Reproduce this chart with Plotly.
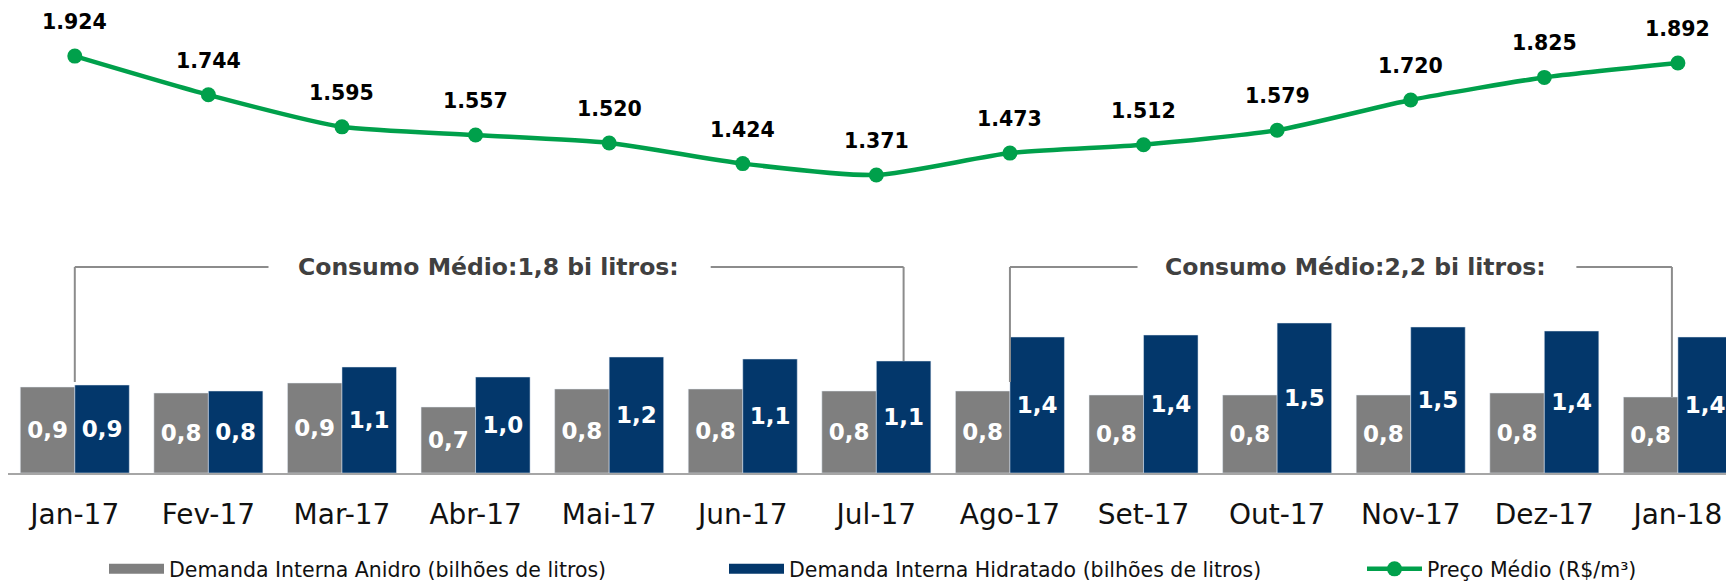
import plotly.graph_objects as go

months = ["Jan-17", "Fev-17", "Mar-17", "Abr-17", "Mai-17", "Jun-17", "Jul-17",
          "Ago-17", "Set-17", "Out-17", "Nov-17", "Dez-17", "Jan-18"]
anidro = [0.86, 0.80, 0.90, 0.66, 0.84, 0.84, 0.82, 0.82, 0.78, 0.78, 0.78, 0.80, 0.76]
hidratado = [0.88, 0.82, 1.06, 0.96, 1.16, 1.14, 1.12, 1.36, 1.38, 1.50, 1.46, 1.42, 1.36]
preco = [1924, 1744, 1595, 1557, 1520, 1424, 1371, 1473, 1512, 1579, 1720, 1825, 1892]

name_anidro = "Demanda Interna Anidro (bilhões de litros)"
name_hidr = "Demanda Interna Hidratado (bilhões de litros)"
name_preco = "Preço Médio (R$/m³)"
consumo1 = "Consumo Médio:1,8 bi litros:"
consumo2 = "Consumo Médio:2,2 bi litros:"

GREY = "#7F7F7F"
BLUE = "#03376B"
GREEN = "#00A04B"
FONT = "DejaVu Sans"

fig = go.Figure()
fig.add_bar(x=months, y=anidro, name=name_anidro, marker_color=GREY, showlegend=False,
            texttemplate="%{y:.1f}", textposition="inside", insidetextanchor="middle",
            textangle=0, constraintext="none",
            textfont=dict(family=FONT, size=23, color="white", weight="bold"))
fig.add_bar(x=months, y=hidratado, name=name_hidr, marker_color=BLUE, showlegend=False,
            texttemplate="%{y:.1f}", textposition="inside", insidetextanchor="middle",
            textangle=0, constraintext="none",
            textfont=dict(family=FONT, size=23, color="white", weight="bold"))
fig.add_scatter(x=months, y=preco, name=name_preco, yaxis="y2", mode="lines+markers",
                line=dict(color=GREEN, width=4.5, shape="spline", smoothing=0.6),
                marker=dict(color=GREEN, size=15), showlegend=True, legend="legend3")
# legend proxies for the bar series
fig.add_scatter(x=[None], y=[None], name=name_anidro, mode="lines",
                line=dict(color=GREY, width=10), legend="legend")
fig.add_scatter(x=[None], y=[None], name=name_hidr, mode="lines",
                line=dict(color=BLUE, width=10), legend="legend2")

# price labels
for m, v in zip(months, preco):
    fig.add_annotation(x=m, y=v, yref="y2", text=f"{v:,.0f}".replace(",", "."),
                       showarrow=False, yshift=34,
                       font=dict(family=FONT, size=20.5, color="black", weight="bold"))

# "Consumo Médio" brackets
LINE = dict(color="#8C8C8C", width=2)
yb = 2.06
off = 0.204
shapes = [
    dict(x0=0, x1=0, y0=0.91, y1=yb),
    dict(x0=0, x1=1.45, y0=yb, y1=yb),
    dict(x0=4.76, x1=6 + off, y0=yb, y1=yb),
    dict(x0=6 + off, x1=6 + off, y0=hidratado[6], y1=yb),
    dict(x0=7, x1=7, y0=0.91, y1=yb),
    dict(x0=7, x1=7.955, y0=yb, y1=yb),
    dict(x0=11.24, x1=11.955, y0=yb, y1=yb),
    dict(x0=11.955, x1=11.955, y0=anidro[12], y1=yb),
]
for s in shapes:
    fig.add_shape(type="line", xref="x", yref="y", line=LINE, **s)
fig.add_annotation(x=3.095, y=yb, xref="x", yref="y", text=consumo1, showarrow=False,
                   font=dict(family=FONT, size=23.5, color="#404040", weight="bold"))
fig.add_annotation(x=9.59, y=yb, xref="x", yref="y", text=consumo2, showarrow=False,
                   font=dict(family=FONT, size=23.5, color="#404040", weight="bold"))

leg_common = dict(orientation="h", xref="container", yref="container", xanchor="left",
                  y=14 / 583, yanchor="middle", itemwidth=55,
                  font=dict(family=FONT, size=20.5, color="#111111"), bgcolor="rgba(0,0,0,0)")

fig.update_layout(
    width=1726, height=583, autosize=False,
    margin=dict(l=8, r=0, t=0, b=110, autoexpand=False),
    paper_bgcolor="white", plot_bgcolor="white",
    separators=",.",
    barmode="group", bargap=0.184, bargroupgap=0,
    font=dict(family=FONT, color="black"),
    xaxis=dict(type="category", range=[-0.5, 12.36], showline=True, linecolor="#A6A6A6",
               linewidth=2, ticks="", showgrid=False, zeroline=False, automargin=False,
               tickfont=dict(family=FONT, size=28, color="#111111"), ticklabelstandoff=15),
    yaxis=dict(range=[0, 4.73], visible=False, showgrid=False, zeroline=False),
    yaxis2=dict(range=[-15, 2185], overlaying="y", visible=False, showgrid=False, zeroline=False),
    legend=dict(x=104 / 1726, **leg_common),
    legend2=dict(x=724 / 1726, **leg_common),
    legend3=dict(x=1362 / 1726, **leg_common),
    showlegend=True,
)
fig.write_html("out.html", config={"displayModeBar": False},
               post_script="document.body.style.margin='0';document.body.style.overflow='hidden';")
